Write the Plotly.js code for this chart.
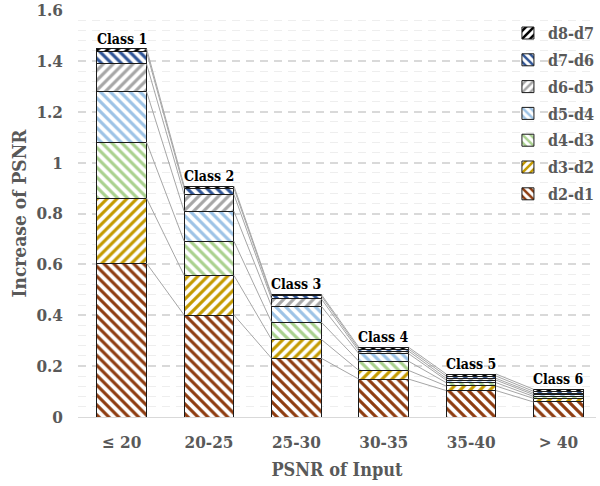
<!DOCTYPE html>
<html>
<head>
<meta charset="utf-8">
<script src="https://cdn.plot.ly/plotly-3.0.1.min.js"></script>
<style>html,body{margin:0;padding:0;background:#fff;overflow:hidden}#chart{width:600px;height:486px}</style>
</head>
<body>
<div id="chart"></div>
<script>
// Data
const categories = ["\u2264 20", "20-25", "25-30", "30-35", "35-40", "> 40"];
const classLabels = ["Class 1", "Class 2", "Class 3", "Class 4", "Class 5", "Class 6"];
const seriesNames = ["d2-d1", "d3-d2", "d4-d3", "d5-d4", "d6-d5", "d7-d6", "d8-d7"];
const d2_d1 = [0.604, 0.401, 0.231, 0.149, 0.104, 0.059];
const d3_d2 = [0.256, 0.156, 0.074, 0.034, 0.018, 0.014];
const d4_d3 = [0.220, 0.134, 0.068, 0.036, 0.013, 0.008];
const d5_d4 = [0.199, 0.118, 0.063, 0.030, 0.010, 0.007];
const d6_d5 = [0.109, 0.066, 0.029, 0.010, 0.007, 0.006];
const d7_d6 = [0.047, 0.024, 0.011, 0.008, 0.009, 0.007];
const d8_d7 = [0.013, 0.009, 0.006, 0.007, 0.008, 0.008];
const seriesValues = [d2_d1, d3_d2, d4_d3, d5_d4, d6_d5, d7_d6, d8_d7];

// Styles
const colors = ["#8e3c10", "#c49a00", "#a9d18e", "#9dc3e6", "#a6a6a6", "#2f5597", "#000000"];
const shapes = ["\\", "/", "\\", "\\", "/", "\\", "/"];
const FONT = "DejaVu Serif Condensed, DejaVu Serif, serif";
const BAR_W = 0.57;

const xs = categories.map((c, i) => i);
const traces = [];
const cum = xs.map(() => 0);
const cumTops = [];
seriesValues.forEach((vals, k) => {
  traces.push({
    type: "bar", name: seriesNames[k], x: xs, y: vals, width: BAR_W,
    legendgroup: seriesNames[k],
    legendrank: seriesValues.length - k,
    marker: {
      color: colors[k],
      line: {color: "#1a1a1a", width: 1},
      pattern: {shape: shapes[k], fgcolor: colors[k], bgcolor: "#ffffff", size: 7, solidity: 0.45, fillmode: "replace"}
    },
    hoverinfo: "skip"
  });
  vals.forEach((v, i) => { cum[i] += v; });
  cumTops.push(cum.slice());
});

// Series lines connecting the tops of each segment between neighbouring bars
cumTops.forEach((tops) => {
  const lx = [], ly = [];
  for (let i = 0; i < xs.length - 1; i++) {
    lx.push(xs[i] + BAR_W / 2, xs[i + 1] - BAR_W / 2, null);
    ly.push(tops[i], tops[i + 1], null);
  }
  traces.push({type: "scatter", mode: "lines", x: lx, y: ly, showlegend: false,
    hoverinfo: "skip", line: {color: "#a6a6a6", width: 1}});
});

const totals = cumTops[cumTops.length - 1];
const annotations = xs.map((x, i) => ({
  x: x, y: totals[i], xref: "x", yref: "y", text: classLabels[i], showarrow: false,
  yanchor: "bottom", yshift: 0,
  font: {family: FONT, size: 14, color: "#000", weight: "bold"}
}));

const layout = {
  width: 600, height: 486,
  margin: {l: 78, r: 0, t: 10, b: 69},
  paper_bgcolor: "#fff", plot_bgcolor: "#fff",
  barmode: "stack",
  showlegend: true,
  legend: {
    x: 0.83, xanchor: "left", y: 0.985, yanchor: "top",
    traceorder: "grouped", tracegroupgap: 3,
    font: {family: FONT, size: 16, color: "#595959", weight: "bold"},
    bgcolor: "rgba(255,255,255,0)"
  },
  xaxis: {
    range: [-0.5, 5.43], tickmode: "array", tickvals: xs, ticktext: categories,
    showgrid: false, zeroline: false, showline: true, linecolor: "#d9d9d9", linewidth: 1,
    ticks: "", ticklabelstandoff: 10,
    tickfont: {family: FONT, size: 17, color: "#595959", weight: "bold"},
    title: {text: "PSNR of Input", standoff: 11, font: {family: FONT, size: 18, color: "#595959", weight: "bold"}}
  },
  yaxis: {
    range: [0, 1.6], dtick: 0.2, tick0: 0,
    showgrid: true, gridcolor: "#d9d9d9", gridwidth: 2, griddash: "8px,6px",
    minor: {dtick: 0.04, tick0: 0, showgrid: true, gridcolor: "#eeeeee", gridwidth: 1},
    zeroline: false, showline: false, ticks: "", ticklabelstandoff: 14,
    ticklabeloverflow: "allow",
    tickfont: {family: FONT, size: 17, color: "#595959", weight: "bold"},
    title: {text: "Increase of PSNR", standoff: 4, font: {family: FONT, size: 19, color: "#595959", weight: "bold"}}
  },
  annotations: annotations
};

Plotly.newPlot("chart", traces, layout, {displayModeBar: false, staticPlot: true});
</script>
</body>
</html>
